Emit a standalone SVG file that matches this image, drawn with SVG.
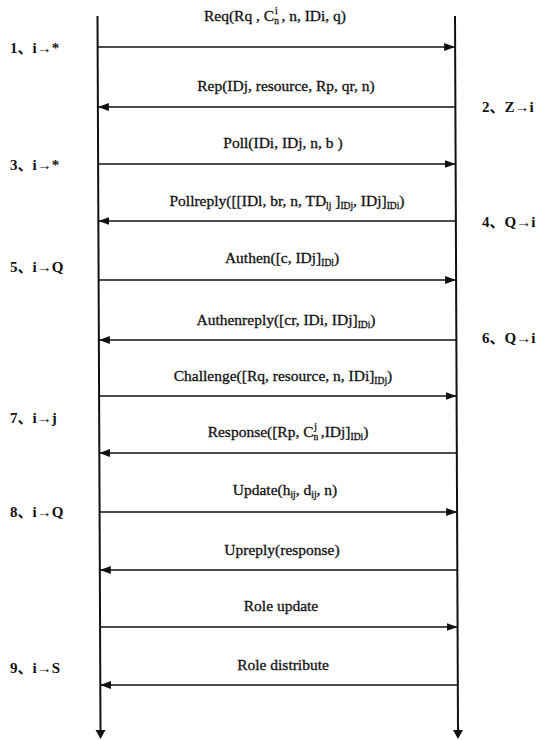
<svg xmlns="http://www.w3.org/2000/svg" width="545" height="740" viewBox="0 0 545 740">
<style>
.msg{font-family:"Liberation Serif","Times New Roman",serif;font-size:15.5px;fill:#111;stroke:#111;stroke-width:0.3;text-anchor:middle;}
.sub{font-size:9.5px;}
.side{font-family:"Liberation Serif","Noto Sans CJK SC",serif;font-size:15px;font-weight:bold;fill:#111;}
.life{stroke:#111;stroke-width:2;fill:none;}
.arr{stroke:#111;stroke-width:1.6;fill:none;marker-end:url(#ah);}
</style>
<defs>
<marker id="ah" viewBox="0 0 11 8" refX="11" refY="4" markerWidth="11" markerHeight="8" orient="auto" markerUnits="userSpaceOnUse"><path d="M0,0 L11,4 L0,8 z" fill="#111"/></marker>
</defs>
<rect width="545" height="740" fill="#fff"/>
<g id="lifelines">
<path class="life" d="M97.5,16 L100.5,731"/>
<path d="M95.5,730 L105.5,730 L100.5,739 z" fill="#111"/>
<path class="life" d="M455,16 L458,731"/>
<path d="M453,730 L463,730 L458,739 z" fill="#111"/>
</g>
<g id="connectors">
<line class="arr" x1="97.6" y1="47" x2="455.1" y2="47"/>
<line class="arr" x1="455.4" y1="107" x2="97.9" y2="107"/>
<line class="arr" x1="98.1" y1="164" x2="455.6" y2="164"/>
<line class="arr" x1="455.9" y1="221" x2="98.4" y2="221"/>
<line class="arr" x1="98.6" y1="280" x2="456.1" y2="280"/>
<line class="arr" x1="456.4" y1="340" x2="98.9" y2="340"/>
<line class="arr" x1="99.1" y1="396" x2="456.6" y2="396"/>
<line class="arr" x1="456.8" y1="453" x2="99.3" y2="453"/>
<line class="arr" x1="99.6" y1="512" x2="457.1" y2="512"/>
<line class="arr" x1="457.3" y1="570" x2="99.8" y2="570"/>
<line class="arr" x1="100.1" y1="627" x2="457.6" y2="627"/>
<line class="arr" x1="457.8" y1="685" x2="100.3" y2="685"/>
</g>
<g id="msg-labels">
<text class="msg" x="275" y="21">Req(Rq , C<tspan class="sub" dy="3">n</tspan><tspan class="sub" dx="-4" dy="-10">i</tspan><tspan dy="7"> , n, IDi, q)</tspan></text>
<text class="msg" x="286" y="91">Rep(IDj, resource, Rp, qr,  n)</text>
<text class="msg" x="283" y="148">Poll(IDi, IDj, n, b )</text>
<text class="msg" x="287" y="206">Pollreply([[IDl, br, n, TD<tspan class="sub" dy="3">lj</tspan><tspan dy="-3"> ]</tspan><tspan class="sub" dy="3">IDj</tspan><tspan dy="-3">, IDj]</tspan><tspan class="sub" dy="3">IDi</tspan><tspan dy="-3">)</tspan></text>
<text class="msg" x="282" y="263">Authen([c, IDj]<tspan class="sub" dy="3">IDl</tspan><tspan dy="-3">)</tspan></text>
<text class="msg" x="286" y="325">Authenreply([cr, IDi, IDj]<tspan class="sub" dy="3">IDi</tspan><tspan dy="-3">)</tspan></text>
<text class="msg" x="283" y="381">Challenge([Rq,  resource, n, IDi]<tspan class="sub" dy="3">IDj</tspan><tspan dy="-3">)</tspan></text>
<text class="msg" x="288" y="437">Response([Rp, C<tspan class="sub" dy="3">n</tspan><tspan class="sub" dx="-4" dy="-10">j</tspan><tspan dy="7"> ,IDj]</tspan><tspan class="sub" dy="3">IDi</tspan><tspan dy="-3">)</tspan></text>
<text class="msg" x="285" y="495">Update(h<tspan class="sub" dy="3">ij</tspan><tspan dy="-3">, d</tspan><tspan class="sub" dy="3">ij</tspan><tspan dy="-3">, n)</tspan></text>
<text class="msg" x="282" y="555">Upreply(response)</text>
<text class="msg" x="281" y="611">Role update</text>
<text class="msg" x="283" y="670">Role distribute</text>
</g>
<g id="step-labels">
<text class="side" x="10" y="53">1、i→*</text>
<text class="side" x="482" y="112">2、Z→i</text>
<text class="side" x="10" y="170">3、i→*</text>
<text class="side" x="482" y="227">4、Q→i</text>
<text class="side" x="10" y="272">5、i→Q</text>
<text class="side" x="482" y="343">6、Q→i</text>
<text class="side" x="10" y="423">7、i→j</text>
<text class="side" x="10" y="517">8、i→Q</text>
<text class="side" x="10" y="673">9、i→S</text>
</g>
</svg>
